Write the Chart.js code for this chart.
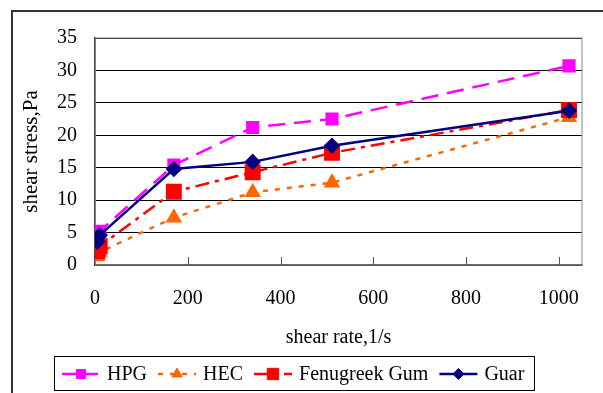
<!DOCTYPE html>
<html>
<head>
<meta charset="utf-8">
<script src="https://cdn.jsdelivr.net/npm/chart.js@4"></script>
<style>
  html, body { margin: 0; padding: 0; background: #fff; overflow: hidden; }
  #frame { position: absolute; left: 11px; top: 10px; width: 700px; height: 500px; border: 2px solid #333; }
  #chart { position: absolute; left: 0; top: 0; }
</style>
</head>
<body>
<div id="frame"></div>
<canvas id="chart" width="603" height="393"></canvas>
<script>
// ===== DATA =====
const shearRates = [5.1, 10.2, 170, 340, 511, 1022];
const hpg = [4.4, 5.2, 15.4, 21.2, 22.5, 30.7];
const hec = [1.3, 2.0, 7.3, 11.2, 12.7, 22.8];
const fenugreek = [2.1, 2.9, 11.3, 14.3, 17.3, 23.9];
const guar = [3.6, 4.6, 14.8, 15.9, 18.4, 23.8];
const xTicks = [0, 200, 400, 600, 800, 1000];
const yTicks = [0, 5, 10, 15, 20, 25, 30, 35];

const FONT = "'Liberation Serif', 'Times New Roman', serif";

function points(values) {
  return values.map((v, i) => ({ x: shearRates[i], y: v }));
}

// plot frame + inward x ticks
const plotFrame = {
  id: "plotFrame",
  beforeDatasetsDraw(chart) {
    const { ctx, chartArea: a } = chart;
    ctx.save();
    ctx.strokeStyle = "#888";
    ctx.lineWidth = 1;
    ctx.strokeRect(a.left, a.top, a.right - a.left, a.bottom - a.top);
    const xs = chart.scales.x;
    ctx.strokeStyle = "#555";
    ctx.beginPath();
    xTicks.forEach((t) => {
      if (t === 0) return;
      const px = Math.round(xs.getPixelForValue(t)) + 0.5;
      ctx.moveTo(px, a.bottom);
      ctx.lineTo(px, a.bottom - 8);
    });
    ctx.stroke();
    ctx.restore();
  },
};

// legend with line + marker samples
const boxLegend = {
  id: "boxLegend",
  afterDraw(chart) {
    const ctx = chart.ctx;
    ctx.save();
    ctx.strokeStyle = "#000";
    ctx.lineWidth = 1;
    ctx.strokeRect(54.5, 356.5, 480, 34);
    ctx.font = "20px " + FONT;
    ctx.textBaseline = "middle";
    ctx.fillStyle = "#000";
    let x = 62;
    const y = 374;
    chart.data.datasets.forEach((ds) => {
      const lw = 38;
      ctx.save();
      ctx.strokeStyle = ds.borderColor;
      ctx.lineWidth = ds.borderWidth;
      ctx.setLineDash(ds.legendDash || []);
      ctx.beginPath();
      ctx.moveTo(x, y);
      ctx.lineTo(x + lw, y);
      ctx.stroke();
      ctx.restore();
      ctx.fillStyle = ds.pointBackgroundColor;
      ctx.strokeStyle = ds.pointBackgroundColor;
      Chart.helpers.drawPoint(ctx, {
        pointStyle: ds.pointStyle,
        radius: ds.pointRadius * 0.85,
        borderWidth: 1,
        rotation: 0,
      }, x + lw / 2, y);
      ctx.fillStyle = "#000";
      ctx.fillText(ds.label, x + lw + 7, y + 1);
      x += lw + 7 + ctx.measureText(ds.label).width + 11;
    });
    ctx.restore();
  },
};

function drawChart() {
  new Chart(document.getElementById("chart"), {
    type: "line",
    data: {
      datasets: [
        {
          label: "HPG",
          data: points(hpg),
          borderColor: "#FF00FF",
          pointBackgroundColor: "#FF00FF",
          pointBorderColor: "#FF00FF",
          borderWidth: 2.5,
          borderDash: [17, 9],
          legendDash: [14, 8],
          pointStyle: "rect",
          pointRadius: 7.5,
          order: 3,
        },
        {
          label: "HEC",
          data: points(hec),
          borderColor: "#FF6600",
          pointBackgroundColor: "#FF6600",
          pointBorderColor: "#FF6600",
          borderWidth: 2.5,
          borderDash: [5, 7],
          legendDash: [5, 7],
          pointStyle: "triangle",
          pointRadius: 7,
          order: 2,
        },
        {
          label: "Fenugreek Gum",
          data: points(fenugreek),
          borderColor: "#FF0000",
          pointBackgroundColor: "#FF0000",
          pointBorderColor: "#FF0000",
          borderWidth: 2.5,
          borderDash: [14, 6, 4, 6],
          legendDash: [14, 6, 4, 6],
          pointStyle: "rect",
          pointRadius: 9.5,
          order: 1,
        },
        {
          label: "Guar",
          data: points(guar),
          borderColor: "#000080",
          pointBackgroundColor: "#000080",
          pointBorderColor: "#000080",
          borderWidth: 2.5,
          pointStyle: "rectRot",
          pointRadius: 6.5,
          order: 0,
        },
      ],
    },
    options: {
      responsive: false,
      animation: false,
      events: [],
      layout: { padding: { top: 38, right: 21, bottom: 43, left: 0 } },
      plugins: {
        legend: { display: false },
        tooltip: { enabled: false },
      },
      elements: {
        line: { tension: 0 },
        point: { borderWidth: 1 },
      },
      scales: {
        x: {
          type: "linear",
          min: 0,
          max: 1050,
          afterFit(scale) { scale.height = 85; },
          afterBuildTicks(scale) { scale.ticks = xTicks.map((v) => ({ value: v })); },
          grid: { display: false, drawTicks: false },
          border: { display: true, color: "#555", width: 1.5 },
          ticks: {
            color: "#000",
            font: { family: FONT, size: 20 },
            padding: 22,
            maxRotation: 0,
            callback: (v) => String(v),
          },
          title: {
            display: true,
            text: "shear rate,1/s",
            color: "#000",
            font: { family: FONT, size: 20 },
            padding: { top: 0, bottom: 0 },
          },
        },
        y: {
          min: 0,
          max: 35,
          afterFit(scale) { scale.width = 95; },
          afterBuildTicks(scale) { scale.ticks = yTicks.map((v) => ({ value: v })); },
          grid: { color: "#000", lineWidth: 1, drawTicks: false },
          border: { display: true, color: "#000", width: 1.5 },
          ticks: {
            color: "#000",
            font: { family: FONT, size: 20 },
            padding: 18,
            callback: (v) => String(v),
          },
          title: {
            display: true,
            text: "shear stress,Pa",
            color: "#000",
            font: { family: FONT, size: 21 },
            padding: { top: 19, bottom: 0 },
          },
        },
      },
    },
    plugins: [plotFrame, boxLegend],
  });
}

document.fonts.load("20px 'Liberation Serif'").then(drawChart, drawChart);
</script>
</body>
</html>
